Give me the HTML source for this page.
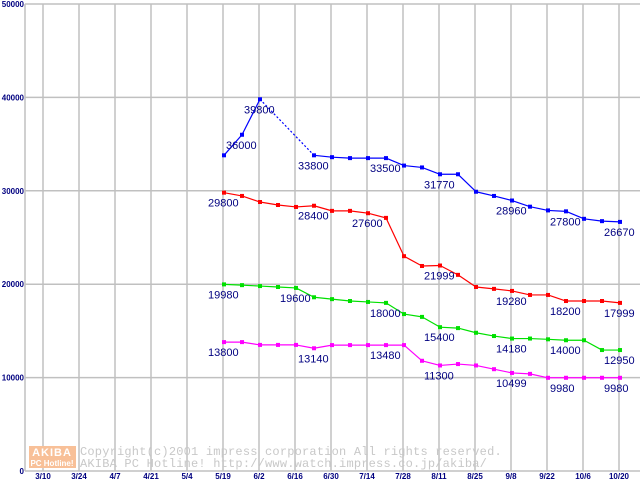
<!DOCTYPE html>
<html><head><meta charset="utf-8"><style>
html,body{margin:0;padding:0;background:#fff;}
svg{display:block;}
</style></head><body>
<svg id="chart" width="640" height="480" xmlns="http://www.w3.org/2000/svg">
<g id="grid"></g>
<g id="watermark">
<rect x="29" y="446" width="47" height="22" fill="#f8c098"/>
<text x="52" y="456" text-anchor="middle" font-family="Liberation Sans, sans-serif" font-size="11" font-weight="bold" fill="#fff" letter-spacing="1">AKIBA</text>
<text x="52" y="466" text-anchor="middle" font-family="Liberation Sans, sans-serif" font-size="8" font-weight="bold" fill="#fff">PC Hotline!</text>
<text x="80" y="455" font-family="Liberation Mono, monospace" font-size="12" letter-spacing="0.2" fill="#c8c8c8">Copyright(c)2001 impress corporation All rights reserved.</text>
<text x="80" y="467" font-family="Liberation Mono, monospace" font-size="12" letter-spacing="0.2" fill="#c8c8c8">AKIBA PC Hotline!  http://www.watch.impress.co.jp/akiba/</text>
</g>
<g id="series"></g>
<g id="labels"></g>
</svg>
<script>
const xTickLabels = ["3/10","3/24","4/7","4/21","5/4","5/19","6/2","6/16","6/30","7/14","7/28","8/11","8/25","9/8","9/22","10/6","10/20"];
const yTicks = [0,10000,20000,30000,40000,50000];
// weekly points starting 5/19 (week index 0 = 5/19)
const blueValues = [33800,36000,39800,null,null,33800,33600,33500,33500,33500,32700,32500,31770,31770,29900,29450,28960,28300,27900,27800,27000,26750,26670];
const redValues = [29800,29450,28800,28480,28270,28400,27850,27850,27600,27100,23000,21950,21999,21000,19700,19500,19280,18850,18850,18200,18200,18200,17999];
const greenValues = [19980,19900,19800,19700,19600,18600,18400,18200,18100,18000,16800,16500,15400,15300,14800,14450,14180,14180,14100,14000,14000,12950,12950];
const magentaValues = [13800,13800,13500,13500,13500,13140,13480,13480,13480,13480,13480,11800,11300,11450,11300,10900,10499,10400,9980,9980,9980,9980,9980];
const blueLabels = [1,2,5,9,12,16,19,22];
const redLabels = [0,5,8,12,16,19,22];
const greenLabels = [0,4,9,12,16,19,22];
const magentaLabels = [0,5,9,12,16,19,22];

const NS="http://www.w3.org/2000/svg";
const yMax=50000, yTop=4, yBot=471;
function yScale(v){return yBot-(v/yMax)*(yBot-yTop);}
function xTick(i){return 43+36*i;}
function xPoint(i){return 224+18*i;}
function mk(tag,attrs,parent){const e=document.createElementNS(NS,tag);for(const k in attrs)e.setAttribute(k,attrs[k]);parent.appendChild(e);return e;}

const grid=document.getElementById('grid');
for(let i=0;i<xTickLabels.length;i++){
  const x=xTick(i);
  const l=mk('line',{x1:x,y1:yTop,x2:x,y2:yBot,stroke:'#c0c0c0','stroke-width':1.5},grid);
  
  
  const t=mk('text',{x:x,y:479,'text-anchor':'middle','font-family':'Liberation Sans, sans-serif','font-size':8,'font-weight':'bold',fill:'#000080'},grid);
  t.textContent=xTickLabels[i];
  
  
}
for(const v of yTicks){
  const y=yScale(v);
  const l=mk('line',{x1:25,y1:y,x2:640,y2:y,stroke:'#c0c0c0','stroke-width':1.5},grid);
  
  
  const t=mk('text',{x:24,y:y+3,'text-anchor':'end','font-family':'Liberation Sans, sans-serif','font-size':8,'font-weight':'bold',fill:'#000080'},grid);
  t.textContent=String(v);
  
  
}
const ax=mk('line',{x1:25,y1:yTop,x2:25,y2:yBot,stroke:'#c0c0c0','stroke-width':1.5},grid);



const sg=document.getElementById('series'), lg=document.getElementById('labels');
function drawSeries(vals,color,name,labelIdx){
  const g=mk('g',{},sg);
  
  
  let prev=-1, gap=false;
  for(let i=0;i<vals.length;i++){
    if(vals[i]==null){gap=true;continue;}
    if(prev>=0){
      const a={x1:xPoint(prev),y1:yScale(vals[prev]),x2:xPoint(i),y2:yScale(vals[i]),stroke:color,'stroke-width':1.2};
      if(gap)a['stroke-dasharray']='2,2';
      const l=mk('line',a,g);
      
      
    }
    prev=i;gap=false;
  }
  for(let i=0;i<vals.length;i++){
    if(vals[i]==null)continue;
    const r=mk('rect',{x:xPoint(i)-2,y:yScale(vals[i])-2,width:4,height:4,fill:color},g);
    
    
  }
  for(const i of labelIdx){
    const t=mk('text',{x:xPoint(i)-16,y:yScale(vals[i])+14,'font-family':'Liberation Sans, sans-serif','font-size':11,fill:'#000080'},lg);
    t.textContent=String(vals[i]);
    
    
  }
}
drawSeries(blueValues,'#0000ff','blue',blueLabels);
drawSeries(redValues,'#ff0000','red',redLabels);
drawSeries(greenValues,'#00e000','green',greenLabels);
drawSeries(magentaValues,'#ff00ff','magenta',magentaLabels);
</script>
</body></html>
